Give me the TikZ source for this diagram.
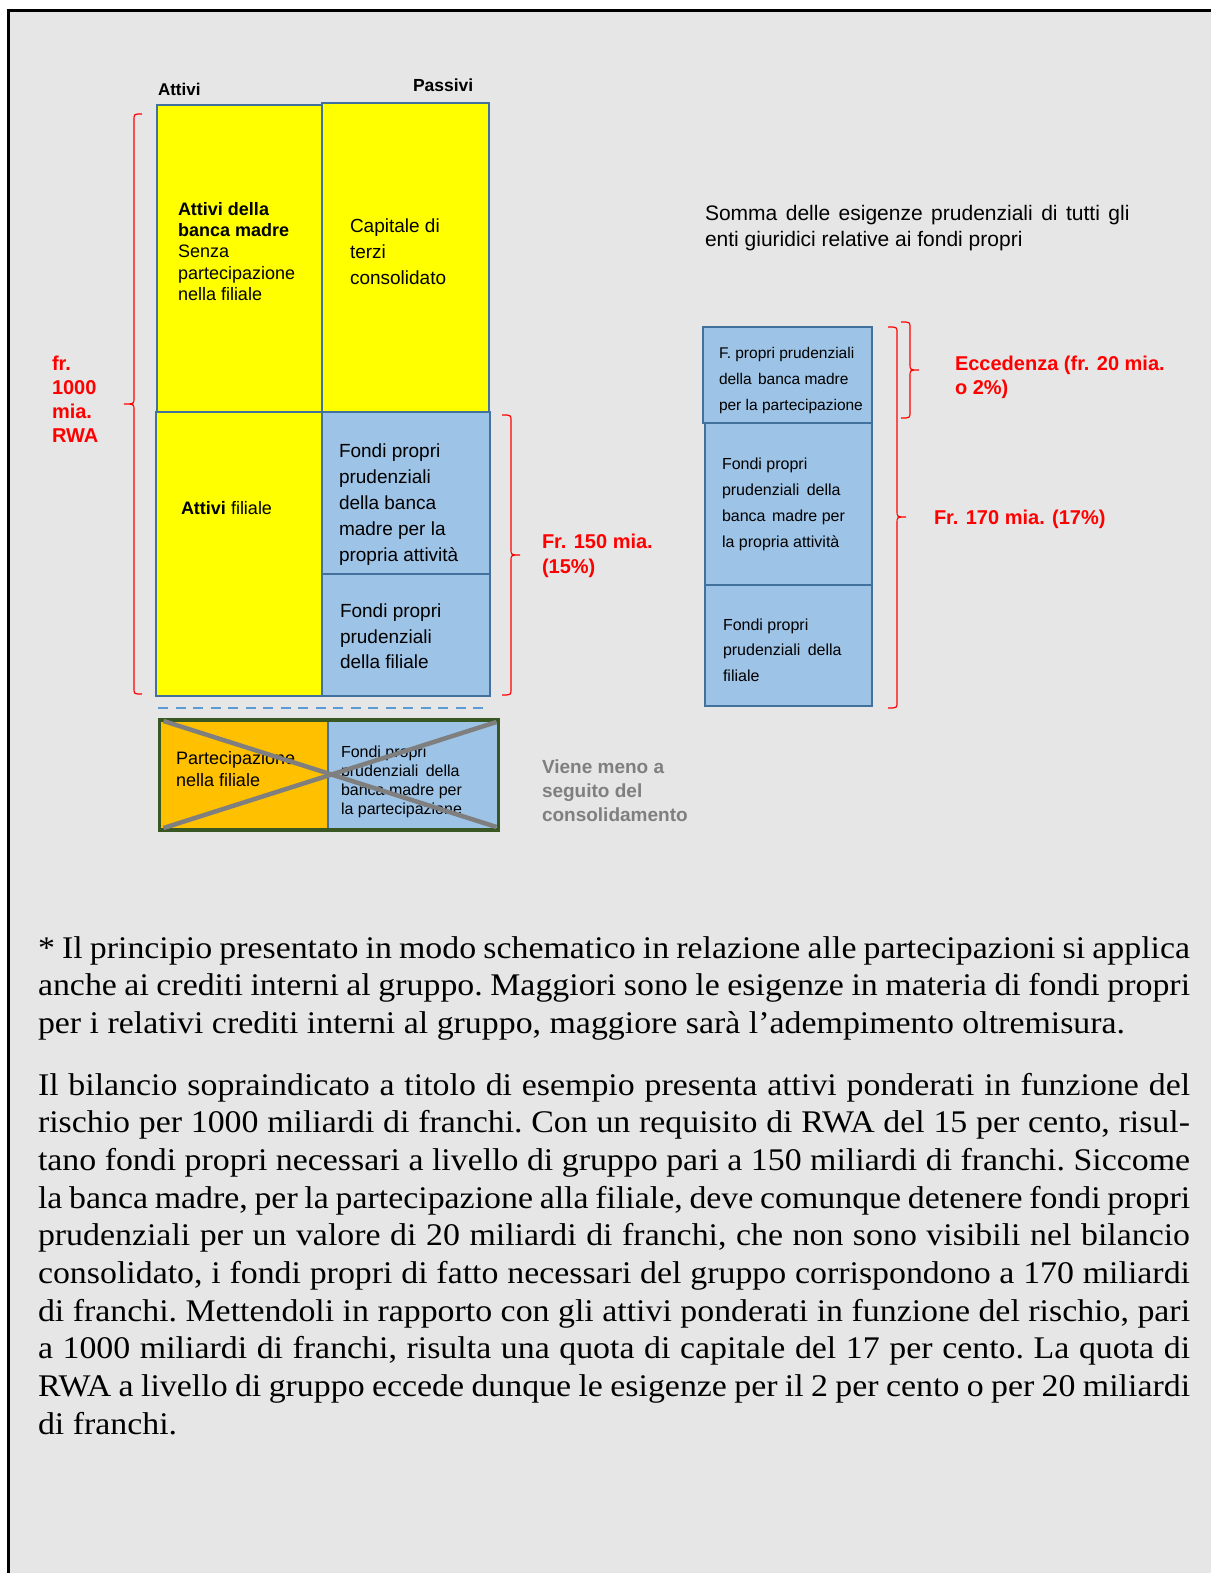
\documentclass[tikz,border=0pt]{standalone}
\usepackage{fontspec}
\setmainfont{Liberation Serif}[FakeStretch=1.075]
\setsansfont{Liberation Sans}
\definecolor{bggray}{HTML}{E6E6E6}
\definecolor{ylw}{HTML}{FFFF00}
\definecolor{bluefill}{HTML}{9DC3E6}
\definecolor{boxline}{HTML}{41719C}
\definecolor{orng}{HTML}{FFC000}
\definecolor{dkgreen}{HTML}{385723}
\definecolor{xgray}{HTML}{7F7F7F}
\definecolor{dashblue}{HTML}{5B9BD5}
\definecolor{txtred}{HTML}{FF0000}
\newcommand\fs[2]{\fontsize{#1}{#2}\selectfont}
\newcommand\jline[1]{\hbox to 1152pt{#1}}
\newcommand\mybrace[6]{% xh, xv, xt, yt, ym, yb
  \draw[brc] (#1,#4) .. controls (#2,#4) .. (#2,#4+6) -- (#2,#5-6)
    .. controls (#2,#5) .. (#3,#5) .. controls (#2,#5) .. (#2,#5+6)
    -- (#2,#6-6) .. controls (#2,#6) .. (#1,#6);}
\begin{document}
\begin{tikzpicture}[x=1pt,y=-1pt,
  every node/.style={inner sep=0pt, outer sep=0pt},
  bx/.style={draw=boxline, line width=2pt},
  lbl/.style={anchor=west, align=left, font=\sffamily, yshift=-3pt},
  redlbl/.style={anchor=west, align=left, text=txtred, yshift=-3.5pt, font=\sffamily\bfseries\fs{20}{24.5}},
  brc/.style={draw=txtred, line width=1.2pt},
  xline/.style={draw=xgray, line width=4.5pt},
  dashline/.style={draw=dashblue, line width=2.8pt, dash pattern=on 10pt off 7.5pt}]
\useasboundingbox (0,0) rectangle (1211,1573);
\fill[white] (0,0) rectangle (1211,1573);
\fill[bggray] (8,9) rectangle (1211,1573);
\draw[line width=3.6pt] (8.4,1573) -- (8.4,10.5) -- (1211,10.5);

% column headers
\node[lbl, yshift=2pt, font=\sffamily\bfseries\fs{17}{20}] (hatt) at (158,88) {Attivi};
\node[lbl, yshift=2pt, font=\sffamily\bfseries\fs{17.5}{20}] (hpas) at (413,84) {Passivi};

% balance sheet boxes
\node[bx, fill=ylw, minimum width=165pt, minimum height=307pt] (a1) at (239.5,258.5) {};
\node[bx, fill=ylw, minimum width=167pt, minimum height=309pt] (pa1) at (405.5,257.5) {};
\node[bx, fill=ylw, minimum width=166pt, minimum height=284pt] (a2) at (239,554) {};
\node[bx, fill=bluefill, minimum width=168pt, minimum height=162pt] (pa2) at (406,493) {};
\node[bx, fill=bluefill, minimum width=168pt, minimum height=122pt] (pa3) at (406,635) {};

\node[lbl, font=\sffamily\fs{18}{21.2}] (ta1) at (178,248.5)
  {\textbf{Attivi della}\\\textbf{banca madre}\\Senza\\partecipazione\\nella filiale};
\node[lbl, font=\sffamily\fs{19}{26}] (tpa1) at (350,249) {Capitale di\\terzi\\consolidato};
\node[lbl, font=\sffamily\fs{18}{21}] (ta2) at (181,505) {\textbf{Attivi} filiale};
\node[lbl, font=\sffamily\fs{19}{25.8}] (tpa2) at (339,501.5)
  {Fondi propri\\prudenziali\\della banca\\madre per la\\propria attività};
\node[lbl, font=\sffamily\fs{19}{25.5}] (tpa3) at (340,633.5)
  {Fondi propri\\prudenziali\\della filiale};

% braces left
\mybrace{142}{134}{124}{114}{404}{694}
\node[redlbl, yshift=2pt, font=\sffamily\bfseries\fs{20}{24}] (rwa) at (52,398) {fr.\\1000\\mia.\\RWA};
\mybrace{502}{511}{520}{415}{555}{695}
\node[redlbl, font=\sffamily\bfseries\fs{20}{25}] (f150) at (542,552.5) {Fr. 150 mia.\\(15\%)};

% dashed separator
\draw[dashline] (158,708) -- (485,708);

% crossed-out participation
\node[fill=orng, minimum width=168pt, minimum height=110pt] (o1) at (244,775) {};
\node[fill=bluefill, minimum width=170pt, minimum height=110pt] (b1) at (413,775) {};
\draw[draw=boxline, line width=2pt] (o1.north east) -- (o1.south east);
\node[draw=dkgreen, line width=3.5pt, minimum width=339pt, minimum height=110pt] (g1) at (329,775) {};
\node[lbl, font=\sffamily\fs{18}{22}] (to1) at (176,766) {Partecipazione\\nella filiale};
\node[lbl, font=\sffamily\fs{16}{19}] (tb1) at (341,778.5)
  {Fondi propri\\prudenziali\hspace{3pt} della\\banca madre per\\la partecipazione};
\draw[xline] ([shift={(4,1)}]g1.north west) -- ([shift={(-2,-3)}]g1.south east);
\draw[xline] ([shift={(4,-2)}]g1.south west) -- ([shift={(-2,2)}]g1.north east);
\node[lbl, text=xgray, font=\sffamily\bfseries\fs{19}{24}] (viene) at (542,788)
  {Viene meno a\\seguito del\\consolidamento};

% right side
\node[lbl, font=\sffamily\fs{21}{26}] (somma) at (705,225)
  {\spaceskip=8.5pt\relax Somma delle esigenze prudenziali di tutti gli\\enti giuridici relative ai fondi propri};
\node[bx, fill=bluefill, minimum width=169pt, minimum height=96pt] (r1) at (787.5,375) {};
\node[bx, fill=bluefill, minimum width=167pt, minimum height=162pt] (r2) at (788.5,504) {};
\node[bx, fill=bluefill, minimum width=167pt, minimum height=121pt] (r3) at (788.5,645.5) {};
\node[lbl, font=\sffamily\fs{15.5}{26}] (tr1) at (719,377)
  {F. propri prudenziali\\della\hspace{2pt} banca madre\\per la partecipazione};
\node[lbl, font=\sffamily\fs{16}{26}] (tr2) at (722,501)
  {Fondi propri\\prudenziali\hspace{3pt} della\\banca\hspace{2pt} madre per\\la propria attività};
\node[lbl, font=\sffamily\fs{16}{25.5}] (tr3) at (723,647)
  {Fondi propri\\prudenziali\hspace{3pt} della\\filiale};
\mybrace{901}{910}{919}{322}{370}{418}
\mybrace{888}{897}{906}{327}{517}{708}
\node[redlbl, font=\sffamily\bfseries\fs{20}{24}] (ecc) at (955,374) {Eccedenza (fr. 20 mia.\\o 2\%)};
\node[redlbl] (f170) at (934,516) {Fr. 170 mia. (17\%)};

% explanatory text
\node[anchor=base west, font=\rmfamily\fs{31.5}{37.8}\frenchspacing] (para1) at (38,958) {\vtop{%
\jline{* Il principio presentato in modo schematico in relazione alle partecipazioni si applica}
\jline{anche ai crediti interni al gruppo. Maggiori sono le esigenze in materia di fondi propri}
\hbox{per i relativi crediti interni al gruppo, maggiore sarà l’adempimento oltremisura.}}};
\node[anchor=base west, font=\rmfamily\fs{31.5}{37.7}\frenchspacing] (para2) at (38,1095) {\vtop{%
\jline{Il bilancio sopraindicato a titolo di esempio presenta attivi ponderati in funzione del}
\jline{rischio per 1000 miliardi di franchi. Con un requisito di RWA del 15 per cento, risul-}
\jline{tano fondi propri necessari a livello di gruppo pari a 150 miliardi di franchi. Siccome}
\jline{la banca madre, per la partecipazione alla filiale, deve comunque detenere fondi propri}
\jline{prudenziali per un valore di 20 miliardi di franchi, che non sono visibili nel bilancio}
\jline{consolidato, i fondi propri di fatto necessari del gruppo corrispondono a 170 miliardi}
\jline{di franchi. Mettendoli in rapporto con gli attivi ponderati in funzione del rischio, pari}
\jline{a 1000 miliardi di franchi, risulta una quota di capitale del 17 per cento. La quota di}
\jline{RWA a livello di gruppo eccede dunque le esigenze per il 2 per cento o per 20 miliardi}
\hbox{di franchi.}}};
\end{tikzpicture}
\end{document}
